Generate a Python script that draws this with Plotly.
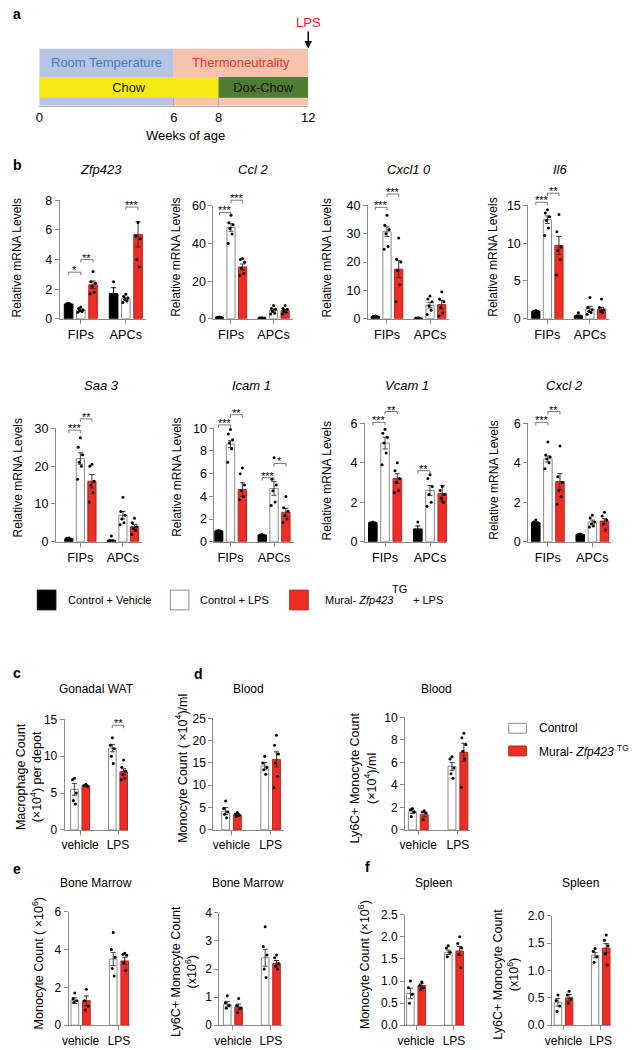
import plotly.graph_objects as go

W, H = 639, 1050
FONT = "Liberation Sans, Arial, Helvetica, sans-serif"

# ---------------- data ----------------
week_ticks = [0, 6, 8, 12]
temp_labels = ["Room Temperature", "Thermoneutrality"]
temp_start = [0, 6]
temp_end = [6, 12]
diet_labels = ["Chow", "Dox-Chow"]
diet_start = [0, 8]
diet_end = [8, 12]
lps_week = 12

b_cells = ["FIPs", "APCs"]
b_series = ["Control + Vehicle", "Control + LPS", "Mural- Zfp423 TG + LPS"]

# order: FIPs (vehicle, LPS, TG+LPS), APCs (vehicle, LPS, TG+LPS)
zfp423_mean = [1.0, 0.6, 2.3, 1.7, 1.35, 5.7]
zfp423_sem = [0.05, 0.08, 0.25, 0.4, 0.1, 0.85]
zfp423_pts = [[1.05, 1.0, 0.95, 1.02], [0.8, 0.7, 0.6, 0.55, 0.5, 0.45], [3.2, 2.5, 2.4, 2.2, 1.8, 1.7],
              [2.5, 1.6, 1.4, 1.3], [1.65, 1.5, 1.4, 1.3, 1.2, 1.1], [6.5, 5.6, 5.4, 4.0, 3.5]]
zfp423_sig = [(0, 0, 1, "*", 3.15), (0, 1, 2, "**", 4.0), (1, 1, 2, "***", 7.55)]

ccl2_mean = [0.8, 48.5, 27.5, 0.5, 4.5, 4.3]
ccl2_sem = [0.1, 2.0, 1.6, 0.1, 0.8, 0.6]
ccl2_pts = [[1.0, 0.8, 0.7, 0.6], [55, 51, 50, 48, 45, 40], [32, 31.5, 30, 27, 24, 23],
            [0.6, 0.5, 0.4], [7, 5.5, 5, 4, 3, 2.5], [7, 5.5, 5, 4, 3.5, 2.5]]
ccl2_sig = [(0, 0, 1, "***", 56.5), (0, 1, 2, "***", 63)]

cxcl10_mean = [0.8, 30.7, 17.5, 0.3, 4.8, 5.0]
cxcl10_sem = [0.1, 1.7, 3.0, 0.05, 1.0, 1.5]
cxcl10_pts = [[1.0, 0.8, 0.7], [36.5, 33, 31.5, 30, 25.5, 24.5], [28.5, 21, 20, 17, 12, 6],
              [0.4, 0.3], [8, 7, 6, 4.5, 3, 1.5], [9.5, 7, 6, 4, 2, 1]]
cxcl10_sig = [(0, 0, 1, "***", 39.3), (0, 1, 2, "***", 44)]

il6_mean = [1.0, 13.1, 9.7, 0.4, 1.3, 1.25]
il6_sem = [0.05, 0.5, 1.2, 0.1, 0.35, 0.25]
il6_pts = [[1.1, 1.0, 0.95], [14.4, 14.0, 13.5, 13.0, 12.0, 11.0], [13.8, 11.5, 9.5, 9.0, 7.8, 5.8],
           [0.8, 0.3], [2.8, 1.5, 1.2, 1.0, 0.8, 0.6], [2.6, 1.5, 1.2, 1.0, 0.8]]
il6_sig = [(0, 0, 1, "***", 15.4), (0, 1, 2, "**", 16.6)]

saa3_mean = [0.8, 22.0, 16.0, 0.4, 7.0, 4.0]
saa3_sem = [0.15, 1.5, 1.8, 0.1, 1.0, 0.6]
saa3_pts = [[1.0, 0.9, 0.7], [27.5, 25, 23, 21, 20, 16.5], [20.5, 20, 16, 15, 13, 10.5],
            [1.5, 0.3], [11.8, 8, 7, 6, 5, 4.5], [6.2, 5, 4, 3.5, 3, 2]]
saa3_sig = [(0, 0, 1, "***", 29.5), (0, 1, 2, "**", 32.5)]

icam1_mean = [0.95, 8.6, 4.6, 0.6, 4.7, 2.6]
icam1_sem = [0.05, 0.3, 0.6, 0.05, 0.6, 0.35]
icam1_pts = [[1.0, 0.95, 0.9], [9.9, 9.5, 9.0, 8.7, 8.2, 7.0], [6.5, 6.0, 5.0, 4.5, 4.0, 3.7],
             [0.65, 0.6], [7.4, 5.5, 5.0, 4.5, 3.5, 3.2], [4.0, 3.0, 2.7, 2.3, 2.0, 1.7]]
icam1_sig = [(0, 0, 1, "***", 10.3), (0, 1, 2, "**", 11.2), (1, 0, 1, "***", 5.65), (1, 1, 2, "*", 6.9)]

vcam1_mean = [0.97, 5.0, 3.2, 0.65, 2.6, 2.45]
vcam1_sem = [0.03, 0.3, 0.25, 0.15, 0.25, 0.4]
vcam1_pts = [[1.0, 0.97, 0.95], [5.7, 5.5, 5.3, 5.0, 4.5, 3.9], [4.0, 3.6, 3.2, 3.0, 2.6, 2.5],
             [1.0, 0.6], [3.4, 3.2, 2.8, 2.4, 2.0, 1.8], [2.8, 2.6, 2.4, 2.2, 2.0]]
vcam1_sig = [(0, 0, 1, "***", 6.05), (0, 1, 2, "**", 6.6), (1, 0, 1, "**", 3.6)]

cxcl2_mean = [0.97, 4.2, 3.05, 0.37, 1.0, 1.05]
cxcl2_sem = [0.04, 0.15, 0.4, 0.02, 0.1, 0.12]
cxcl2_pts = [[1.1, 1.0, 0.95], [5.05, 4.4, 4.3, 4.2, 4.0, 3.7], [4.85, 3.3, 3.0, 2.6, 2.3, 1.9],
             [0.4, 0.37], [1.35, 1.2, 1.0, 0.9, 0.8, 0.75], [1.5, 1.3, 1.1, 0.9, 0.6]]
cxcl2_sig = [(0, 0, 1, "***", 6.05), (0, 1, 2, "**", 6.6)]

cf_groups = ["vehicle", "LPS"]
cf_series = ["Control", "Mural- Zfp423 TG"]
# order: vehicle (Control, TG), LPS (Control, TG)
gonadal_mean = [5.5, 6.0, 11.1, 7.9]
gonadal_sem = [0.8, 0.1, 0.5, 0.4]
gonadal_pts = [[7.0, 6.8, 5.0, 4.0, 3.5], [6.2, 6.0, 5.9], [12.5, 11.5, 11.0, 10.0, 9.0], [9.5, 8.5, 8.0, 7.5, 7.0, 6.8]]
gonadal_sig = [(1, 0, 1, "**", 14.2)]

blood_mono_mean = [4.2, 3.4, 14.3, 15.8]
blood_mono_sem = [0.8, 0.3, 0.8, 1.7]
blood_mono_pts = [[6.5, 4.8, 4.0, 3.5, 2.7], [3.9, 3.5, 3.3, 3.0], [16.5, 15.0, 14.0, 13.5, 12.5], [21.2, 19.0, 17.0, 15.0, 12.0, 9.5]]

blood_ly6c_mean = [1.6, 1.35, 5.65, 6.9]
blood_ly6c_sem = [0.15, 0.2, 0.35, 0.8]
blood_ly6c_pts = [[1.9, 1.8, 1.6, 1.2], [1.7, 1.6, 1.5, 0.9], [6.5, 6.3, 5.5, 5.0, 4.6], [8.6, 8.2, 7.6, 7.0, 6.3, 3.8]]

bm_mono_mean = [1.3, 1.3, 3.5, 3.4]
bm_mono_sem = [0.15, 0.25, 0.35, 0.2]
bm_mono_pts = [[1.7, 1.4, 1.3, 1.2], [1.9, 1.3, 1.0, 0.8], [4.9, 4.0, 3.6, 3.0, 2.6], [3.8, 3.75, 3.7, 3.3, 2.9]]

bm_ly6c_mean = [0.75, 0.65, 2.4, 2.2]
bm_ly6c_sem = [0.1, 0.1, 0.3, 0.1]
bm_ly6c_pts = [[1.05, 0.8, 0.7, 0.6], [0.95, 0.7, 0.6, 0.45], [3.5, 2.8, 2.5, 2.0, 1.7], [2.5, 2.4, 2.2, 2.1, 2.0]]

spleen_mono_mean = [0.72, 0.9, 1.65, 1.68]
spleen_mono_sem = [0.12, 0.05, 0.05, 0.1]
spleen_mono_pts = [[1.0, 0.85, 0.7, 0.5], [0.98, 0.9, 0.85, 0.8], [1.8, 1.75, 1.65, 1.55], [2.0, 1.85, 1.75, 1.6, 1.3]]

spleen_ly6c_mean = [0.42, 0.5, 1.28, 1.41]
spleen_ly6c_sem = [0.07, 0.06, 0.05, 0.08]
spleen_ly6c_pts = [[0.55, 0.45, 0.35, 0.25], [0.62, 0.55, 0.48, 0.4], [1.4, 1.35, 1.25, 1.15], [1.65, 1.55, 1.45, 1.3, 1.1]]

# ---------------- styles ----------------
TEMP_COL = ["#b8c5e2", "#f8c3ad"]
TEMP_TXT = ["#3f7cc2", "#e8372c"]
DIET_COL = ["#f6ea15", "#4e7c31"]
RED = "#ee2e24"
B_FILL = ["#000000", "#ffffff", RED]
B_LINE = ["#000000", "#8a8a8a", "#b8261d"]
B_ERR = ["#000000", "#444444", "#333333"]
CF_FILL = ["#ffffff", RED]
CF_LINE = ["#8a8a8a", "#b8261d"]
CF_ERR = ["#444444", "#333333"]
AXC = "#8a8a8a"
JIT = [0.0, -0.05, 0.05, -0.025, 0.025, -0.065, 0.065]

fig = go.Figure()
layout_axes = {}
annotations = []
shapes = []


def py2p(py):
    return 1 - py / H


def ann(px, py, text, size=12, **kw):
    d = dict(x=px / W, y=py2p(py), xref="paper", yref="paper", text=text, showarrow=False,
             font=dict(family=kw.pop("family", FONT), size=size, color=kw.pop("color", "#000")),
             xanchor=kw.pop("xanchor", "center"), yanchor=kw.pop("yanchor", "middle"))
    d.update(kw)
    annotations.append(d)


def names(n):
    s = "" if n == 1 else str(n)
    return "xaxis" + s, "yaxis" + s, "x" + s, "y" + s


# ---------------- panel a: timeline ----------------
xa, ya, xr, yr = names(1)
layout_axes[xa] = dict(domain=[33 / W, 308 / W], range=[0, 12], anchor=yr, tickvals=week_ticks,
                       ticks="inside", ticklen=8, tickcolor="#b0b0b0", showline=True, linecolor="#b0b0b0",
                       showgrid=False, zeroline=False, tickfont=dict(size=13, color="#000"), fixedrange=True)
layout_axes[ya] = dict(domain=[py2p(100), py2p(42)], range=[1, 0], anchor=xr, visible=False, fixedrange=True)
fig.add_trace(go.Bar(orientation="h", y=[0.5, 0.5], x=[e - s for s, e in zip(temp_start, temp_end)],
                     base=temp_start, width=1.0, marker=dict(color=TEMP_COL, line_width=0),
                     xaxis=xr, yaxis=yr, hoverinfo="skip", showlegend=False))
fig.add_trace(go.Bar(orientation="h", y=[0.681, 0.681], x=[e - s for s, e in zip(diet_start, diet_end)],
                     base=diet_start, width=0.362, marker=dict(color=DIET_COL, line_width=0),
                     text=diet_labels, textposition="inside", insidetextanchor="middle",
                     textfont=dict(size=13, color="#111", family=FONT),
                     xaxis=xr, yaxis=yr, hoverinfo="skip", showlegend=False))
for lab, s, e, c in zip(temp_labels, temp_start, temp_end, TEMP_TXT):
    annotations.append(dict(x=(s + e) / 2, y=0.25, xref=xr, yref=yr, text=lab, showarrow=False,
                            font=dict(family=FONT, size=13, color=c)))
annotations.append(dict(x=lps_week, y=0, xref=xr, yref=yr, text="LPS", showarrow=True, ax=0, ay=-26,
                        arrowhead=2, arrowsize=1, arrowwidth=1.5, arrowcolor="#000",
                        font=dict(family=FONT, size=13, color="#e8231c")))
ann(183, 130, "Weeks of age", 13)


# ---------------- generic bar chart ----------------
def bar_chart(n, box, xrange_, ymax, dtick, groups, fills, lines, errs, mean, sem, pts, sig,
              off, bw, xfont, yfont, tickfmt=None):
    L, R, T, B = box
    xa, ya, xr, yr = names(n)
    base = dict(showline=True, linecolor=AXC, linewidth=1, ticks="outside", ticklen=4, tickwidth=1,
                tickcolor=AXC, showgrid=False, zeroline=False, fixedrange=True)
    layout_axes[xa] = dict(base, domain=[L / W, R / W], range=list(xrange_), anchor=yr,
                           tickvals=list(range(len(groups))), ticktext=groups,
                           tickfont=dict(size=xfont, color="#000"))
    layout_axes[ya] = dict(base, domain=[py2p(B), py2p(T)], range=[0, ymax], anchor=xr, dtick=dtick,
                           tick0=0, tickfont=dict(size=yfont, color="#000"))
    if tickfmt:
        layout_axes[ya]["tickformat"] = tickfmt
    ns = len(fills)
    for s in range(ns):
        xs = [g + (s - (ns - 1) / 2) * off for g in range(len(groups))]
        idx = [g * ns + s for g in range(len(groups))]
        fig.add_trace(go.Bar(x=xs, y=[mean[i] for i in idx], width=bw, xaxis=xr, yaxis=yr,
                             marker=dict(color=fills[s], line=dict(color=lines[s], width=1)),
                             error_y=dict(type="data", array=[sem[i] for i in idx], color=errs[s],
                                          thickness=1, width=2.5),
                             hoverinfo="skip", showlegend=False))
    dx, dy = [], []
    for g in range(len(groups)):
        for s in range(ns):
            for k, v in enumerate(pts[g * ns + s]):
                dx.append(g + (s - (ns - 1) / 2) * off + JIT[k % len(JIT)])
                dy.append(v)
    fig.add_trace(go.Scatter(x=dx, y=dy, mode="markers", xaxis=xr, yaxis=yr, cliponaxis=False,
                             marker=dict(size=3, color="#000"), hoverinfo="skip", showlegend=False))
    tick = 3.0 / (B - T)
    for g, s1, s2, txt, h in sig:
        x1 = g + (s1 - (ns - 1) / 2) * off
        x2 = g + (s2 - (ns - 1) / 2) * off
        yd = h / ymax
        shapes.append(dict(type="path", xref=xr, yref=yr + " domain",
                           path=f"M {x1},{yd - tick} L {x1},{yd} L {x2},{yd} L {x2},{yd - tick}",
                           line=dict(color="#555", width=0.8)))
        annotations.append(dict(x=(x1 + x2) / 2, y=yd, xref=xr, yref=yr + " domain", text=txt,
                                showarrow=False, yanchor="bottom", yshift=-6,
                                font=dict(family=FONT, size=11, color="#000")))


# ---------------- panel b ----------------
b_charts = [
    ("<i>Zfp423</i>", (96, 165), (54, 142, 196, 316), (-0.467, 1.446), 8, 2, zfp423_mean, zfp423_sem, zfp423_pts, zfp423_sig, (10, 254)),
    ("<i>Ccl 2</i>", (251, 165), (211, 292, 201.5, 316), (-0.414, 1.448), 60, 20, ccl2_mean, ccl2_sem, ccl2_pts, ccl2_sig, (172, 254)),
    ("<i>Cxcl1 0</i>", (411, 165), (369, 452, 201, 316), (-0.443, 1.443), 40, 10, cxcl10_mean, cxcl10_sem, cxcl10_pts, cxcl10_sig, (327, 254)),
    ("<i>Il6</i>", (566, 165), (533, 615, 201, 316), (-0.448, 1.437), 15, 5, il6_mean, il6_sem, il6_pts, il6_sig, (497, 254)),
    ("<i>Saa 3</i>", (97, 384), (50, 138, 427, 542), (-0.575, 1.448), 30, 10, saa3_mean, saa3_sem, saa3_pts, saa3_sig, (11, 477)),
    ("<i>Icam 1</i>", (250, 384), (212, 293, 427, 542), (-0.371, 1.449), 10, 2, icam1_mean, icam1_sem, icam1_pts, icam1_sig, (173, 477)),
    ("<i>Vcam 1</i>", (409, 384), (366, 450, 422, 542), (-0.446, 1.380), 6, 2, vcam1_mean, vcam1_sem, vcam1_pts, vcam1_sig, (327, 480)),
    ("<i>Cxcl 2</i>", (570, 384), (533, 618, 422, 542), (-0.44, 1.43), 6, 2, cxcl2_mean, cxcl2_sem, cxcl2_pts, cxcl2_sig, (497, 480)),
]
n = 2
for title, tpos, box, xrg, ymax, dt, m, se, p, sg, ylp in b_charts:
    bar_chart(n, box, xrg, ymax, dt, b_cells, B_FILL, B_LINE, B_ERR, m, se, p, sg, 0.272, 0.192, 12.7, 12.5)
    ann(tpos[0], tpos[1], title, 13)
    ann(ylp[0], ylp[1], "Relative mRNA Levels", 12, textangle=-90)
    n += 1

# legend for b
for x0, fill, line in zip([31, 167, 289], B_FILL, B_LINE):
    shapes.append(dict(type="rect", xref="paper", yref="paper", x0=x0 / W, x1=(x0 + 19) / W,
                       y0=py2p(611), y1=py2p(591), fillcolor=fill, line=dict(color=line, width=1)))
ann(60, 601, b_series[0], 11, xanchor="left")
ann(195, 601, b_series[1], 11, xanchor="left")
ann(323, 601, "Mural- <i>Zfp423</i>", 11, xanchor="left")
ann(392, 590, "TG", 11, xanchor="left")
ann(413, 601, "+ LPS", 11, xanchor="left")

# ---------------- panels c-f ----------------
cf_charts = [
    ("Gonadal WAT", (91, 691), (59, 124, 722, 834), (-0.406, 1.271), 15, 5, gonadal_mean, gonadal_sem, gonadal_pts, gonadal_sig,
     (22, 780), "Macrophage Count<br>(×10<sup>4</sup>) per depot", None),
    ("Blood", (247, 691), (211, 283, 721, 834), (-0.4625, 1.3375), 25, 5, blood_mono_mean, blood_mono_sem, blood_mono_pts, [],
     (178, 772), "Monocyte Count ( ×10<sup>4</sup>)/ml", None),
    ("Blood", (439, 691), (407, 473, 720, 834), (-0.333, 1.296), 10, 2, blood_ly6c_mean, blood_ly6c_sem, blood_ly6c_pts, [],
     (364, 782), "Ly6C+ Monocyte Count<br>(×10<sup>4</sup>)/ml", None),
    ("Bone Marrow", (91, 888), (63, 126, 917, 1032), (-0.312, 1.293), 6, 2, bm_mono_mean, bm_mono_sem, bm_mono_pts, [],
     (32, 969), "Monocyte Count ( ×10<sup>6</sup>)", None),
    ("Bone Marrow", (246, 888), (217, 281, 918, 1032), (-0.361, 1.29), 4, 1, bm_ly6c_mean, bm_ly6c_sem, bm_ly6c_pts, [],
     (181, 978), "Ly6C+ Monocyte Count<br>(x10<sup>6</sup>)", None),
    ("Spleen", (436, 888), (407, 468, 920, 1032), (-0.29, 1.284), 2.5, 0.5, spleen_mono_mean, spleen_mono_sem, spleen_mono_pts, [],
     (365, 971), "Monocyte Count (×10<sup>6</sup>)", ".1f"),
    ("Spleen", (586, 888), (557, 618, 921, 1032), (-0.316, 1.29), 2.0, 0.5, spleen_ly6c_mean, spleen_ly6c_sem, spleen_ly6c_pts, [],
     (510, 980), "Ly6C+ Monocyte Count<br>(x10<sup>6</sup>)", ".1f"),
]
for title, tpos, box, xrg, ymax, dt, m, se, p, sg, ylp, ylab, fmt in cf_charts:
    bar_chart(n, box, xrg, ymax, dt, cf_groups, CF_FILL, CF_LINE, CF_ERR, m, se, p, sg, 0.3, 0.2, 12, 12, fmt)
    ann(tpos[0], tpos[1], title, 12)
    ann(ylp[0], ylp[1], ylab, 12.5, textangle=-90)
    n += 1

# legend for c-f
for (y0, lab), fill, line in zip([(726, "Control"), (749, "Mural- <i>Zfp423</i> <sup>TG</sup>")], CF_FILL, CF_LINE):
    shapes.append(dict(type="rect", xref="paper", yref="paper", x0=513 / W, x1=531 / W,
                       y0=py2p(y0 + 10), y1=py2p(y0), fillcolor=fill, line=dict(color=line, width=1)))
    ann(542, y0 + 5, lab, 12, xanchor="left")

# panel letters
for lab, x, y in [("a", 4, 7), ("b", 4, 160), ("c", 4, 675), ("d", 189, 676), ("e", 4, 874), ("f", 364, 872)]:
    ann(x, y, f"<b>{lab}</b>", 14, xanchor="left")

fig.update_layout(
    width=W, height=H, margin=dict(l=0, r=0, t=0, b=0), autosize=False,
    paper_bgcolor="white", plot_bgcolor="rgba(0,0,0,0)", barmode="overlay",
    font=dict(family=FONT, size=12, color="#000"), showlegend=False,
    annotations=annotations, shapes=shapes, **layout_axes,
)
fig.write_html("out.html", config={"displayModeBar": False},
               post_script="document.body.style.margin='0';document.body.style.overflow='hidden';")
